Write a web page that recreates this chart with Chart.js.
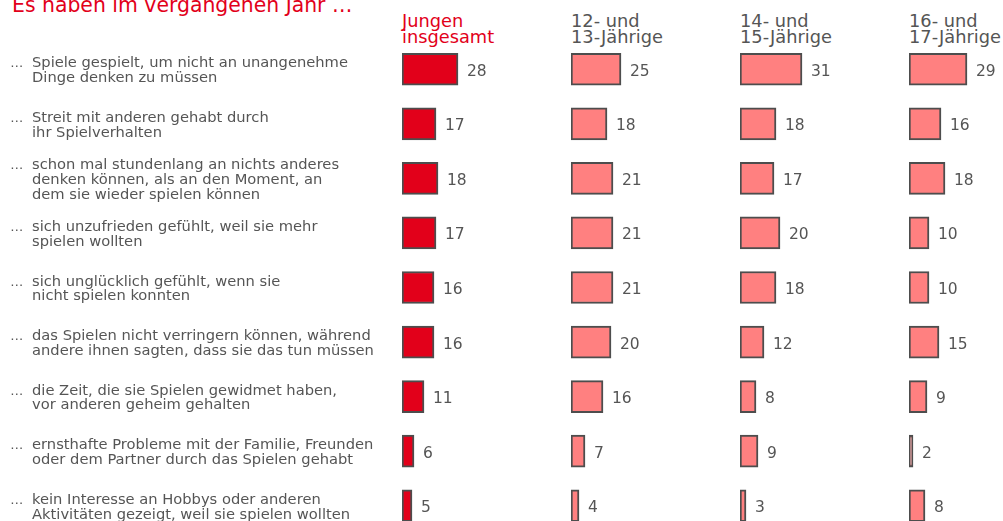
<!DOCTYPE html>
<html><head><meta charset="utf-8">
<script src="https://cdn.jsdelivr.net/npm/chart.js@4"></script>
<style>
html,body{margin:0;padding:0;width:1003px;height:521px;overflow:hidden;background:#fff;}
.box{position:absolute;top:0;height:541px;}
#title{position:absolute;left:12px;top:-5px;font:20.4px/20px "DejaVu Sans",Verdana,sans-serif;color:#e2001a;white-space:nowrap}
.hd{position:absolute;top:13px;font:17.8px/16px "DejaVu Sans",Verdana,sans-serif;white-space:nowrap;color:#555}
</style></head><body>
<div id="title">Es haben im vergangenen Jahr …</div>
<div class="hd" id="h0" style="left:402px;color:#e2001a"></div>
<div class="hd" id="h1" style="left:571px"></div>
<div class="hd" id="h2" style="left:740px"></div>
<div class="hd" id="h3" style="left:909px"></div>
<div class="box" style="left:0;width:571px"><canvas id="c0"></canvas></div>
<div class="box" style="left:571px;width:169px"><canvas id="c1"></canvas></div>
<div class="box" style="left:740px;width:169px"><canvas id="c2"></canvas></div>
<div class="box" style="left:909px;width:169px"><canvas id="c3"></canvas></div>
<script>
const categories = [
  ["Spiele gespielt, um nicht an unangenehme", "Dinge denken zu müssen"],
  ["Streit mit anderen gehabt durch", "ihr Spielverhalten"],
  ["schon mal stundenlang an nichts anderes", "denken können, als an den Moment, an", "dem sie wieder spielen können"],
  ["sich unzufrieden gefühlt, weil sie mehr", "spielen wollten"],
  ["sich unglücklich gefühlt, wenn sie", "nicht spielen konnten"],
  ["das Spielen nicht verringern können, während", "andere ihnen sagten, dass sie das tun müssen"],
  ["die Zeit, die sie Spielen gewidmet haben,", "vor anderen geheim gehalten"],
  ["ernsthafte Probleme mit der Familie, Freunden", "oder dem Partner durch das Spielen gehabt"],
  ["kein Interesse an Hobbys oder anderen", "Aktivitäten gezeigt, weil sie spielen wollten"]
];
const seriesNames = [["Jungen","insgesamt"],["12- und","13-Jährige"],["14- und","15-Jährige"],["16- und","17-Jährige"]];
const jungenInsgesamt = [28,17,18,17,16,16,11,6,5];
const age12to13 = [25,18,21,21,21,20,16,7,4];
const age14to15 = [31,18,17,20,18,12,8,9,3];
const age16to17 = [29,16,18,10,10,15,9,2,8];

const FONT = '"DejaVu Sans", Verdana, sans-serif';
const TEXT = '#555555';

seriesNames.forEach((n,i)=>{ document.getElementById('h'+i).innerHTML = n.join('<br>'); });

const valueLabels = {
  id:'valueLabels',
  afterDatasetsDraw(chart){
    const ctx = chart.ctx, ds = chart.data.datasets[0];
    ctx.save();
    ctx.font = '15.5px ' + FONT;
    ctx.fillStyle = TEXT;
    ctx.textAlign = 'left';
    ctx.textBaseline = 'alphabetic';
    chart.getDatasetMeta(0).data.forEach((bar,i)=>{
      ctx.fillText(String(ds.data[i]), bar.x + 9, bar.y + 6.5);
    });
    ctx.restore();
  }
};
const rowLabels = {
  id:'rowLabels',
  afterDraw(chart){
    if(!chart.options.plugins.rowLabels || !chart.options.plugins.rowLabels.show) return;
    const ctx = chart.ctx, y = chart.scales.y, lh = 14.7;
    ctx.save();
    ctx.fillStyle = TEXT;
    ctx.textAlign = 'left';
    ctx.textBaseline = 'alphabetic';
    chart.data.labels.forEach((lines,i)=>{
      const c = y.getPixelForValue(i);
      const n = lines.length;
      lines.forEach((t,k)=>{
        const by = c + (k - (n-1)/2)*lh + 5.5;
        if(k===0){ ctx.font = '13px ' + FONT; ctx.fillText('…', 10.3, by); }
        ctx.font = '14.7px ' + FONT;
        ctx.fillText(t, 32, by);
      });
    });
    ctx.restore();
  }
};

function makeChart(id, values, color, padLeft, showLabels){
  return new Chart(document.getElementById(id), {
    type:'bar',
    data:{ labels: categories, datasets:[{ data: values, backgroundColor: color, borderColor:'#4d4d4d', borderWidth:2, borderSkipped:false, barThickness:32 }] },
    options:{
      indexAxis:'y', responsive:true, maintainAspectRatio:false, animation:false,
      layout:{ padding:{ left:padLeft, right:0, top:42, bottom:8 } },
      scales:{
        x:{ type:'linear', min:0, max:84.5, display:false },
        y:{ type:'category', display:false, offset:true }
      },
      plugins:{ legend:{display:false}, tooltip:{enabled:false}, rowLabels:{show:showLabels} }
    },
    plugins:[valueLabels, rowLabels]
  });
}
makeChart('c0', jungenInsgesamt, '#e2001a', 402, true);
makeChart('c1', age12to13, '#ff8080', 0, false);
makeChart('c2', age14to15, '#ff8080', 0, false);
makeChart('c3', age16to17, '#ff8080', 0, false);
</script>
</body></html>
